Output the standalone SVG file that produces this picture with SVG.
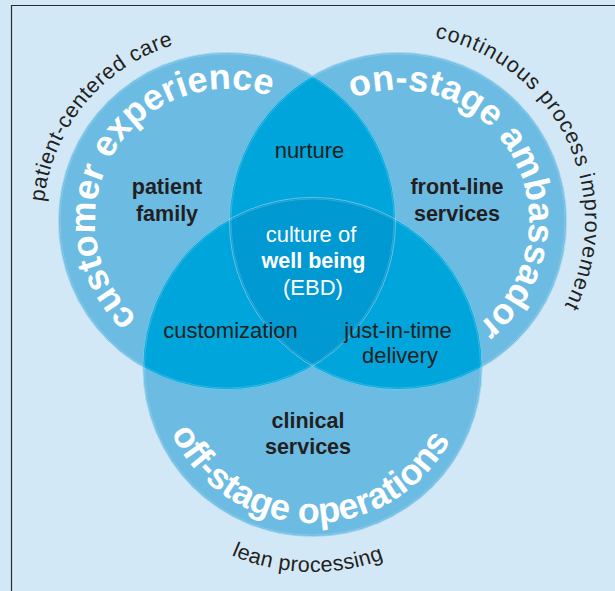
<svg xmlns="http://www.w3.org/2000/svg" width="615" height="591" viewBox="0 0 615 591">
  <style>
    text { font-family: "Liberation Sans", Arial, Helvetica, sans-serif; }
    .base { fill: #6bbbe3; }
    .pair { fill: #00a5db; }
    .tri { fill: #0099d2; }
    .edge { fill: none; stroke: #ffffff; stroke-opacity: 0.5; stroke-width: 0.8; }
    .edge2 { fill: none; stroke: #ffffff; stroke-opacity: 0.3; stroke-width: 0.6; }
    .arc { font-size: 36px; font-weight: bold; fill: #ffffff; }
    .outer { font-size: 21.5px; fill: #231f20; }
    .lbl { font-size: 22px; fill: #231f20; text-anchor: middle; }
    .lblb { font-size: 21.5px; font-weight: bold; fill: #231f20; text-anchor: middle; }
    .wht { fill: #ffffff; }
  </style>
  <defs>
    <clipPath id="cL"><circle cx="227" cy="221" r="169"/></clipPath>
    <clipPath id="cR"><circle cx="398" cy="221" r="169"/></clipPath>
    <clipPath id="cB"><circle cx="312.5" cy="367" r="170"/></clipPath>
    <path id="pCust" d="M169.13,339.64 A132,132 0 1 1 304.59,114.21"/>
    <path id="pOn" d="M324.75,112.4 A131,131 0 1 1 451.28,340.67"/>
    <path id="pOff" d="M158.2,390.06 A156,156 0 0 0 465.36,398.1"/>
    <path id="pPcc" d="M54.54,285.14 A184,184 0 0 1 257.69,39.58"/>
    <path id="pCpi" d="M360.4,37.81 A187,187 0 0 1 522.15,360.84"/>
    <path id="pLean" d="M165.04,509.41 A205,205 0 0 0 454.91,514.46"/>
  </defs>

  <rect x="0" y="0" width="615" height="591" fill="#d3e8f6"/>
  <path d="M11.5,591 V5.5 H615" fill="none" stroke="#2b2b2b" stroke-width="1.2"/>

  <g id="circles">
    <g id="circle-customer"><circle class="base" cx="227" cy="221" r="169"/></g>
    <g id="circle-onstage"><circle class="base" cx="398" cy="221" r="169"/></g>
    <g id="circle-offstage"><circle class="base" cx="312.5" cy="367" r="170"/></g>
    <g id="overlap-nurture" clip-path="url(#cL)"><circle class="pair" cx="398" cy="221" r="169"/></g>
    <g id="overlap-customization" clip-path="url(#cL)"><circle class="pair" cx="312.5" cy="367" r="170"/></g>
    <g id="overlap-jit" clip-path="url(#cR)"><circle class="pair" cx="312.5" cy="367" r="170"/></g>
    <g id="overlap-center" clip-path="url(#cL)"><g clip-path="url(#cR)"><circle class="tri" cx="312.5" cy="367" r="170"/></g></g>
    <g id="edges">
      <circle class="edge" cx="227" cy="221" r="168.6"/>
      <circle class="edge2" cx="227" cy="221" r="167"/>
      <circle class="edge" cx="398" cy="221" r="168.6"/>
      <circle class="edge2" cx="398" cy="221" r="167"/>
      <circle class="edge" cx="312.5" cy="367" r="169.6"/>
      <circle class="edge2" cx="312.5" cy="367" r="168"/>
    </g>
  </g>

  <g id="arc-titles">
    <text class="arc"><textPath href="#pCust" startOffset="50%" text-anchor="middle">customer experience</textPath></text>
    <text class="arc"><textPath href="#pOn" startOffset="50%" text-anchor="middle">on-stage ambassador</textPath></text>
    <text class="arc"><textPath href="#pOff" startOffset="50%" text-anchor="middle">off-stage operations</textPath></text>
  </g>

  <g id="outer-labels">
    <text class="outer" letter-spacing="0.6"><textPath href="#pPcc" startOffset="50%" text-anchor="middle">patient-centered care</textPath></text>
    <text class="outer" letter-spacing="1"><textPath href="#pCpi" startOffset="50.6%" text-anchor="middle">continuous process improvement</textPath></text>
    <text class="outer" letter-spacing="0.4"><textPath href="#pLean" startOffset="49.5%" text-anchor="middle">lean processing</textPath></text>
  </g>

  <g id="node-patient-family">
    <text class="lblb" x="167" y="194">patient</text>
    <text class="lblb" x="167" y="221">family</text>
  </g>
  <g id="node-front-line">
    <text class="lblb" x="457" y="194">front-line</text>
    <text class="lblb" x="457" y="221">services</text>
  </g>
  <g id="node-clinical">
    <text class="lblb" x="308" y="428">clinical</text>
    <text class="lblb" x="308" y="454">services</text>
  </g>
  <g id="node-nurture">
    <text class="lbl" x="309.5" y="158">nurture</text>
  </g>
  <g id="node-center">
    <text class="lbl wht" x="311" y="242">culture of</text>
    <text class="lblb wht" x="313.5" y="268">well being</text>
    <text class="lbl wht" x="313" y="295">(EBD)</text>
  </g>
  <g id="node-customization">
    <text class="lbl" x="230.5" y="338">customization</text>
  </g>
  <g id="node-jit">
    <text class="lbl" x="398" y="338">just-in-time</text>
    <text class="lbl" x="400" y="363">delivery</text>
  </g>
</svg>
